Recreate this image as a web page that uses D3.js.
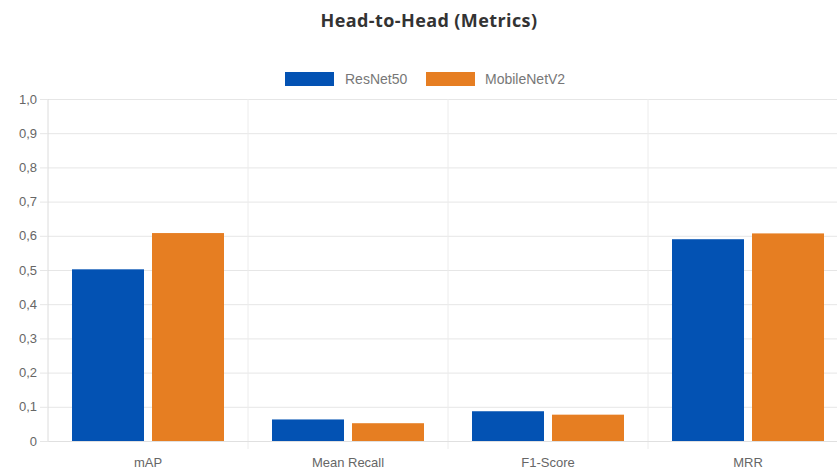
<!DOCTYPE html>
<html>
<head>
<meta charset="utf-8">
<script src="https://cdn.jsdelivr.net/npm/d3@7"></script>
<style>
  body { margin: 0; background: #fff; }
  svg { display: block; font-family: "Liberation Sans", Arial, sans-serif; }
</style>
</head>
<body>
<svg id="chart" width="837" height="474"></svg>
<script>
// chart data
const categories = ["mAP", "Mean Recall", "F1-Score", "MRR"]
const seriesNames = ["ResNet50", "MobileNetV2"]
const resnet50 = [0.502, 0.063, 0.087, 0.590]
const mobilenetV2 = [0.608, 0.052, 0.077, 0.607]
const yTicks = [0, 0.1, 0.2, 0.3, 0.4, 0.5, 0.6, 0.7, 0.8, 0.9, 1.0]

const palette = ["#0352b3", "#e67e22"]

const svg = d3.select("#chart")
const margin = { top: 99, left: 48, bottom: 33 }
const plotW = 800
const plotH = 474 - margin.top - margin.bottom

const xScale = d3.scaleBand()
    .domain(categories)
    .range([0, plotW])

// bars take 80% of each category, each bar 90% of its slot
const groupScale = d3.scaleBand()
    .domain(seriesNames)
    .range([xScale.bandwidth() * 0.1, xScale.bandwidth() * 0.9])
    .paddingInner(0.1)
    .paddingOuter(0.05)

const yScale = d3.scaleLinear()
    .domain([0, 1])
    .range([plotH, 0])

const fmt = v => v === 0 ? "0" : d3.format(".1f")(v).replace(".", ",")

// title
svg.append("text")
    .attr("x", 429)
    .attr("y", 27)
    .attr("text-anchor", "middle")
    .attr("font-size", 18)
    .attr("font-weight", "bold")
    .attr("letter-spacing", 0.4)
    .attr("font-family", "Open Sans, sans-serif")
    .attr("fill", "#333")
    .text("Head-to-Head (Metrics)")

// legend
const legendItems = [
    { name: seriesNames[0], x: 285, tx: 345 },
    { name: seriesNames[1], x: 426, tx: 485 }
]
const legend = svg.append("g")
legend.selectAll("rect")
    .data(legendItems)
    .join("rect")
    .attr("x", d => d.x)
    .attr("y", 72)
    .attr("width", 49)
    .attr("height", 14)
    .attr("fill", (d, i) => palette[i])
legend.selectAll("text")
    .data(legendItems)
    .join("text")
    .attr("x", d => d.tx)
    .attr("y", 84)
    .attr("font-size", 14)
    .attr("fill", "#777")
    .text(d => d.name)

const plot = svg.append("g")
    .attr("transform", `translate(${margin.left},${margin.top})`)

// horizontal gridlines
plot.append("g")
    .call(d3.axisLeft(yScale)
        .tickValues(yTicks)
        .tickSize(-plotW)
        .tickFormat(""))
    .call(g => g.select(".domain").remove())
    .call(g => g.selectAll("line").attr("stroke", "#e6e6e6"))

// vertical gridlines at category borders
plot.append("g")
    .selectAll("line")
    .data(categories)
    .join("line")
    .attr("x1", d => xScale(d) + xScale.bandwidth())
    .attr("x2", d => xScale(d) + xScale.bandwidth())
    .attr("y1", 0)
    .attr("y2", plotH + 8)
    .attr("stroke", "#ececec")

// y axis with labels
plot.append("g")
    .call(d3.axisLeft(yScale)
        .tickValues(yTicks)
        .tickSize(8)
        .tickPadding(3)
        .tickFormat(fmt))
    .call(g => g.select(".domain").attr("stroke", "#dcdcdc").attr("d", `M0,0V${plotH}`))
    .call(g => g.selectAll(".tick line").attr("stroke", "#e6e6e6"))
    .call(g => g.selectAll("text").attr("fill", "#666").attr("font-size", 13).attr("font-family", "Liberation Sans, Arial, sans-serif"))

// x axis labels
plot.append("g")
    .attr("transform", `translate(0,${plotH})`)
    .call(d3.axisBottom(xScale).tickSize(0).tickPadding(17))
    .call(g => g.select(".domain").attr("stroke", "#e0e0e0"))
    .call(g => g.selectAll("text").attr("fill", "#666").attr("font-size", 13).attr("font-family", "Liberation Sans, Arial, sans-serif"))

// bars
const rows = categories.map((c, i) => ({ cat: c, values: [resnet50[i], mobilenetV2[i]] }))
const groups = plot.selectAll(".metricGroup")
    .data(rows)
    .join("g")
    .attr("class", "metricGroup")
    .attr("transform", d => `translate(${xScale(d.cat)},0)`)

groups.selectAll("rect")
    .data(d => d.values.map((v, i) => ({ series: seriesNames[i], value: v, i })))
    .join("rect")
    .attr("x", d => groupScale(d.series))
    .attr("width", groupScale.bandwidth())
    .attr("y", d => yScale(d.value))
    .attr("height", d => plotH - yScale(d.value))
    .attr("fill", d => palette[d.i])
</script>
</body>
</html>
